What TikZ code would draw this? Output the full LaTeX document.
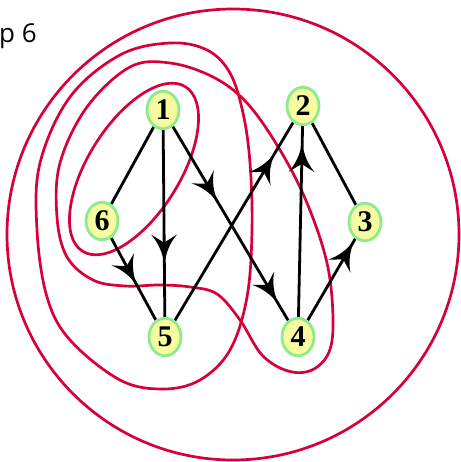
\documentclass[tikz,border=0pt]{standalone}
\usepackage{fontspec}
\setmainfont{Liberation Serif}
\newfontfamily\captionfont{Open Sans}
\usetikzlibrary{shapes.geometric}
\definecolor{cutred}{RGB}{215,0,58}
\definecolor{vfill}{RGB}{247,252,160}
\definecolor{vline}{RGB}{140,236,140}
\pgfdeclarelayer{back}
\pgfsetlayers{back,main}
\tikzset{
  vertex/.style={ellipse,draw=vline,fill=vfill,line width=2.8pt,
    minimum width=32pt,minimum height=37.5pt,inner sep=0pt,
    font=\fontsize{30}{30}\selectfont\bfseries},
  edge/.style={line width=2.8pt,draw=black},
  cut/.style={draw=cutred,line width=2.7pt},
  % barbed arrowhead, tip at the origin, pointing along +x
  pics/barb/.style={code={
    \fill[black] (0pt,0pt) .. controls (-12pt,1.5pt) and (-22pt,6pt) .. (-30pt,13pt)
      -- (-22pt,0pt) -- (-30pt,-13pt)
      .. controls (-22pt,-6pt) and (-12pt,-1.5pt) .. (0pt,0pt) -- cycle;}},
  headat/.style={pos=#1,sloped,allow upside down},
}
\begin{document}
\begin{tikzpicture}[x=1pt,y=-1pt]
\useasboundingbox (0,0) rectangle (460,462);

% caption fragment
\node[anchor=base east,inner sep=0pt,font=\captionfont\fontsize{26}{26}\selectfont] (cap) at (37,43) {p 6};

% vertices
\node[vertex] (n1) at (163,110) {1};
\node[vertex] (n2) at (303,106) {2};
\node[vertex] (n3) at (365,222) {3};
\node[vertex] (n4) at (298,337) {4};
\node[vertex] (n5) at (165,337) {5};
\node[vertex] (n6) at (102,221) {6};

\begin{pgfonlayer}{back}
% enclosing cuts
\draw[cut] (233,234.5) ellipse [x radius=226pt, y radius=225.5pt];
\begin{scope}[shift={(134,169)},rotate=58]
  \draw[cut] (0,0) ellipse [x radius=97pt, y radius=46pt];
\end{scope}
\draw[cut] plot[smooth cycle, tension=0.6] coordinates {
  (170,43) (207,50) (230,73) (243,113) (250,163) (252,230) (247,297)
  (230,350) (200,380) (163,389) (120,380) (70,340) (47,297) (37,230)
  (40,163) (70,97) (120,55)};
\draw[cut] plot[smooth cycle, tension=0.6] coordinates {
  (170,63) (213,77) (247,103) (280,150) (307,203) (327,263) (333,318)
  (329,352) (312,370) (288,371) (262,355) (240,320) (217,294) (190,287)
  (160,285) (125,286) (93,280) (67,257) (57,217) (60,163) (87,107)
  (130,67)};

% edges, with their arrowheads
\draw[edge] (n1) -- (n6);
\draw[edge] (n2) -- (n3);
\draw[edge] (n1) -- (n5) pic[headat=0.72] {barb};
\draw[edge] (n6) -- (n5) pic[headat=0.58] {barb};
\draw[edge] (n1) -- (n4) pic[headat=0.392] {barb} pic[headat=0.915] {barb};
\draw[edge] (n5) -- (n2) pic[headat=0.846] {barb};
\draw[edge] (n4) -- (n2) pic[headat=0.917] {barb};
\draw[edge] (n4) -- (n3) pic[headat=0.98] {barb};
\end{pgfonlayer}
\end{tikzpicture}
\end{document}
